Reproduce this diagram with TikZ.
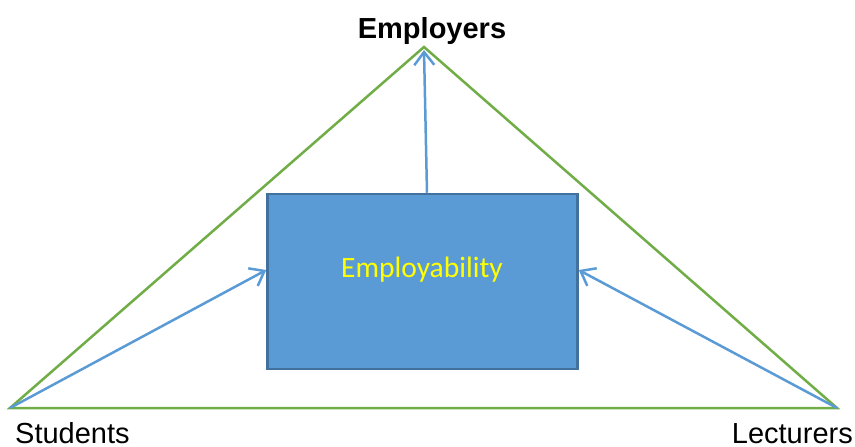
\documentclass[tikz,border=0pt]{standalone}
\usepackage{fontspec}
\setmainfont{Liberation Sans}
\newfontfamily\calibri{Carlito}
\usetikzlibrary{arrows.meta,calc}
\definecolor{tgreen}{HTML}{70AD47}
\definecolor{tblue}{HTML}{5B9BD5}
\definecolor{tborder}{HTML}{41719C}
\definecolor{tyellow}{HTML}{FFFF00}
\tikzset{
  tri/.style={draw=tgreen, line width=2.5pt, line join=miter},
  flow/.style={draw=tblue, line width=2.5pt, -{Straight Barb[length=13pt,width=20pt,line width=2.5pt]}},
  boxst/.style={draw=tborder, fill=tblue, line width=2.5pt, minimum width=310pt, minimum height=175pt, inner sep=0pt},
  lbl/.style={inner sep=0pt, font=\fontsize{29}{31}\selectfont}
}
\begin{document}
\begin{tikzpicture}[x=1pt,y=-1pt]
\useasboundingbox (0,0) rectangle (855,447);
\coordinate (top) at (424,47);
\coordinate (bl) at (10,408);
\coordinate (br) at (837,408);
\draw[tri] (top) -- (br) -- (bl) -- cycle;
\node[boxst] (emp) at (422.5,281.5) {};
\node[inner sep=0pt, anchor=base, text=tyellow, font=\calibri\fontsize{29.5}{31}\selectfont] (emptext) at (422,277) {Employability};
\node[lbl, anchor=base, font=\bfseries\fontsize{29}{31}\selectfont] (employers) at (432,38) {Employers};
\node[lbl, anchor=base west] (students) at (15,443.5) {Students};
\node[lbl, anchor=base east] (lecturers) at (853,443.5) {Lecturers};
\draw[flow] (bl) -- ($(emp.west)+(0,-11.5)$);
\draw[flow] (br) -- ($(emp.east)+(0,-11.5)$);
\draw[flow] ($(emp.north)+(4.5,0)$) -- ($(top)+(0,3)$);
\end{tikzpicture}
\end{document}
